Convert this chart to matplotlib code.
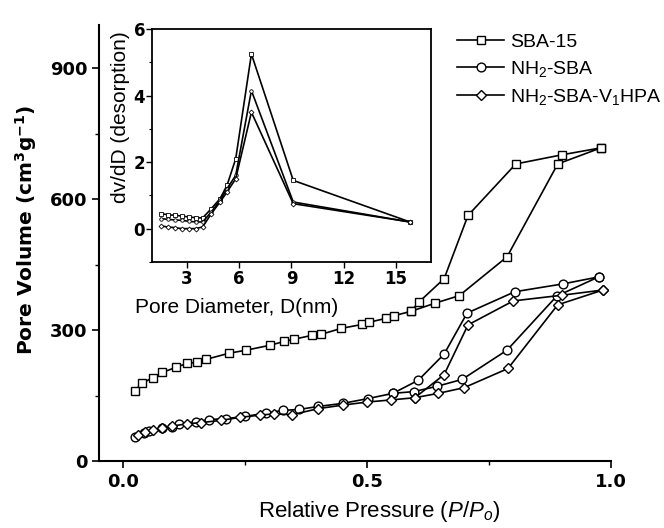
import numpy as np
import matplotlib
matplotlib.use('Agg')
import matplotlib.pyplot as plt
from matplotlib.ticker import MultipleLocator

plt.rcParams['mathtext.fontset'] = 'custom'
plt.rcParams['mathtext.rm'] = 'Liberation Sans'
plt.rcParams['mathtext.it'] = 'Liberation Sans:italic'
plt.rcParams['mathtext.bf'] = 'DejaVu Sans:bold'

# N2 isotherms (main plot)
sba_ads_p = [0.023, 0.039, 0.06, 0.08, 0.109, 0.131, 0.152, 0.17, 0.217, 0.252, 0.30, 0.33,
             0.35, 0.387, 0.405, 0.447, 0.49, 0.504, 0.539, 0.555, 0.59, 0.64, 0.689, 0.787,
             0.891, 0.98]
sba_ads_v = [161, 178, 191, 203, 215, 224, 226, 233, 247, 254, 265, 274,
             279, 288, 290, 304, 313, 318, 327, 333, 343, 362, 379, 468,
             681, 718]
sba_des_p = [0.98, 0.90, 0.805, 0.707, 0.658, 0.607, 0.59]
sba_des_v = [718, 702, 681, 563, 418, 365, 343]

nh2_ads_p = [0.023, 0.043, 0.053, 0.08, 0.10, 0.115, 0.15, 0.176, 0.21, 0.25, 0.293, 0.328,
             0.36, 0.40, 0.45, 0.502, 0.553, 0.596, 0.643, 0.695, 0.787, 0.889, 0.975]
nh2_ads_v = [55, 65, 69, 76, 78, 85, 90, 95, 97, 102, 110, 116,
             118, 125, 132, 143, 155, 159, 171, 187, 254, 378, 422]
nh2_des_p = [0.975, 0.902, 0.803, 0.705, 0.658, 0.605, 0.553]
nh2_des_v = [422, 406, 388, 339, 245, 185, 155]

v1_ads_p = [0.03, 0.045, 0.06, 0.08, 0.10, 0.13, 0.16, 0.20, 0.24, 0.28, 0.31, 0.346,
            0.40, 0.45, 0.50, 0.55, 0.598, 0.646, 0.699, 0.789, 0.891, 0.984]
v1_ads_v = [60, 66, 70, 75, 80, 85, 88, 93, 100, 105, 108, 106,
            120, 128, 135, 140, 145, 155, 168, 212, 358, 392]
v1_des_p = [0.984, 0.90, 0.80, 0.707, 0.658, 0.598]
v1_des_v = [392, 380, 367, 312, 198, 145]

# pore size distribution (inset)
D_inset = [1.5, 1.9, 2.3, 2.7, 3.1, 3.5, 3.9, 4.4, 4.9, 5.3, 5.8, 6.7, 9.1, 15.8]
psd_sba = [0.45, 0.42, 0.4, 0.38, 0.35, 0.33, 0.32, 0.6, 0.9, 1.3, 2.1, 5.25, 1.45, 0.2]
psd_nh2 = [0.3, 0.28, 0.26, 0.25, 0.22, 0.2, 0.2, 0.5, 0.85, 1.2, 1.6, 4.15, 0.8, 0.2]
psd_v1 = [0.08, 0.05, 0.03, 0.0, 0.0, 0.0, 0.05, 0.45, 0.8, 1.1, 1.5, 3.5, 0.75, 0.2]

labels = ['SBA-15', r'NH$_2$-SBA', r'NH$_2$-SBA-V$_1$HPA']
markers = ['s', 'o', 'D']
arial = 'Liberation Sans'

fig = plt.figure(figsize=(6.64, 5.28), dpi=100)
ax = fig.add_axes([0.149, 0.127, 0.771, 0.826])

sets = [(sba_ads_p, sba_ads_v, sba_des_p, sba_des_v),
        (nh2_ads_p, nh2_ads_v, nh2_des_p, nh2_des_v),
        (v1_ads_p, v1_ads_v, v1_des_p, v1_des_v)]
for (pa, va, pd, vd), lab, m in zip(sets, labels, markers):
    ms = 5.5 if m == 'D' else 6.3
    ax.plot(pa + pd, va + vd, '-', color='black', lw=1.2, marker=m, ms=ms,
            mfc='white', mec='black', mew=1.0, label=lab)

ax.set_xlim(-0.05, 1.0)
ax.set_ylim(0, 1000)
ax.spines['top'].set_visible(False)
ax.spines['right'].set_visible(False)
ax.spines['left'].set_linewidth(1.5)
ax.spines['bottom'].set_linewidth(1.5)
ax.xaxis.set_minor_locator(MultipleLocator(0.25))
ax.yaxis.set_minor_locator(MultipleLocator(150))
ax.set_yticks([0, 300, 600, 900])
ax.set_xticks([0.0, 0.5, 1.0])
ax.set_xticklabels(['0.0', '0.5', '1.0'])
ax.tick_params(which='major', length=5, width=1.2, labelsize=13, direction='out')
ax.tick_params(which='minor', length=3, width=1.0, direction='out')
for t in ax.get_xticklabels() + ax.get_yticklabels():
    t.set_fontweight('bold')
ax.set_ylabel(r'Pore Volume (cm$^\mathbf{3}$g$^\mathbf{-1}$)', fontsize=14.5,
              fontweight='bold')
ax.yaxis.set_label_coords(-0.118, 0.53)
ax.set_xlabel(r'Relative Pressure ($P$/$P_o$)', fontsize=16, family=arial)
ax.xaxis.set_label_coords(0.547, -0.088)

leg = ax.legend(loc='upper left', bbox_to_anchor=(0.685, 0.998), frameon=False,
                prop={'family': arial, 'size': 14}, handlelength=2.4,
                handletextpad=0.3, labelspacing=0.4, borderaxespad=0.0)

# inset
axi = fig.add_axes([0.229, 0.504, 0.420, 0.441])
for y, m in zip([psd_sba, psd_nh2, psd_v1], markers):
    axi.plot(D_inset, y, '-', color='black', lw=1.2, marker=m, ms=2.5,
             mfc='white', mec='black', mew=0.6)
axi.set_xlim(1, 17)
axi.set_ylim(-1, 6)
axi.set_xticks([3, 6, 9, 12, 15])
axi.set_yticks([0, 2, 4, 6])
axi.yaxis.set_minor_locator(MultipleLocator(1))
axi.tick_params(which='major', length=4, width=1.0, labelsize=12, direction='out')
axi.tick_params(which='minor', length=2.5, width=0.8, direction='out')
axi.tick_params(axis='y', pad=1)
axi.tick_params(axis='x', pad=2)
for t in axi.get_xticklabels() + axi.get_yticklabels():
    t.set_fontweight('bold')
for s in axi.spines.values():
    s.set_linewidth(1.3)
axi.set_ylabel('dv/dD (desorption)', fontsize=15, family=arial)
axi.yaxis.set_label_coords(-0.08, 0.62)
axi.set_xlabel('Pore Diameter, D(nm)', fontsize=15, family=arial)
axi.xaxis.set_label_coords(0.305, -0.155)

fig.savefig('out.png', dpi=100)
